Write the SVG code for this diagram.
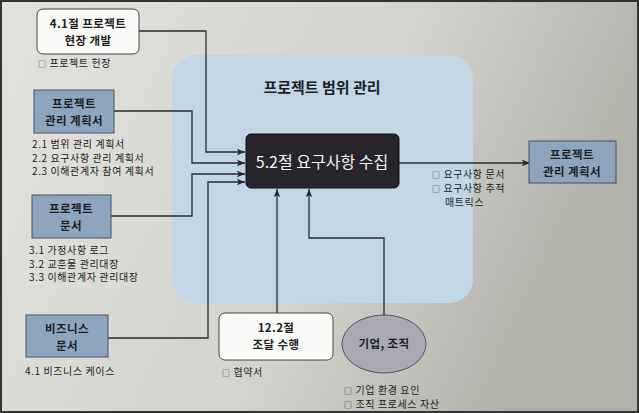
<svg xmlns="http://www.w3.org/2000/svg" width="639" height="413" viewBox="0 0 639 413">
<defs>
<linearGradient id="bg" x1="0" y1="0" x2="1" y2="0.3">
<stop offset="0" stop-color="#e2e2de"/>
<stop offset="0.6" stop-color="#d4d4cf"/>
<stop offset="1" stop-color="#b2b1aa"/>
</linearGradient>
<marker id="ah" viewBox="0 0 10 10" refX="10" refY="5" markerWidth="10" markerHeight="8" markerUnits="userSpaceOnUse" orient="auto">
<path d="M0,1 L10,5 L0,9 L2,5 Z" fill="#2a2a30"/>
</marker>
<style>
.t{font-family:"Noto Sans CJK KR","Noto Sans",sans-serif;fill:#1e1e22}
.b{font-weight:bold;font-size:11.5px;letter-spacing:0.4px;text-anchor:middle}
.s{font-size:10px;letter-spacing:0.6px}
.q{font-size:8px}
.w{fill:#fafaf8;stroke:#444;stroke-width:1}
.bl{fill:#8fa5be;stroke:#4a5060;stroke-width:1}
.c{fill:none;stroke:#2a2a30;stroke-width:1.3}
</style>
</defs>
<rect x="0" y="0" width="639" height="413" fill="url(#bg)"/>
<rect x="172" y="55" width="301" height="248" rx="24" fill="#c3d6e6"/>
<text class="t" x="322" y="93" font-size="15" font-weight="bold" text-anchor="middle">프로젝트 범위 관리</text>

<g id="connectors">
<polyline class="c" points="139,31 206,31 206,152 245,152" marker-end="url(#ah)"/>
<polyline class="c" points="114,111 192,111 192,163 245,163" marker-end="url(#ah)"/>
<polyline class="c" points="111,216 192,216 192,174 245,174" marker-end="url(#ah)"/>
<polyline class="c" points="108,338 208,338 208,182 245,182" marker-end="url(#ah)"/>
<polyline class="c" points="277,313 277,189" marker-end="url(#ah)"/>
<polyline class="c" points="384,315 384,238 309,238 309,189" marker-end="url(#ah)"/>
<polyline class="c" points="399,163 530,163" marker-end="url(#ah)"/>
</g>

<g id="n-charter">
<rect class="w" x="37" y="9" width="102" height="45" rx="6"/>
<text class="t b" x="88" y="27.5">4.1절 프로젝트</text>
<text class="t b" x="88" y="44.5">현장 개발</text>
<text class="t s" x="38" y="67"><tspan class="q">□</tspan> 프로젝트 헌장</text>
</g>

<g id="n-pmplan">
<rect class="bl" x="34" y="90" width="80" height="43"/>
<text class="t b" x="74" y="107.5">프로젝트</text>
<text class="t b" x="74" y="124.5">관리 계획서</text>
<text class="t s" x="32" y="148">2.1 범위 관리 계획서</text>
<text class="t s" x="32" y="161.5">2.2 요구사항 관리 계획서</text>
<text class="t s" x="32" y="175">2.3 이해관계자 참여 계획서</text>
</g>

<g id="n-docs">
<rect class="bl" x="32" y="195" width="79" height="43"/>
<text class="t b" x="71" y="212.5">프로젝트</text>
<text class="t b" x="71" y="229.5">문서</text>
<text class="t s" x="29" y="254">3.1 가정사항 로그</text>
<text class="t s" x="29" y="267.5">3.2 교훈물 관리대장</text>
<text class="t s" x="29" y="281">3.3 이해관계자 관리대장</text>
</g>

<g id="n-biz">
<rect class="bl" x="26" y="315" width="82" height="42"/>
<text class="t b" x="67" y="332.5">비즈니스</text>
<text class="t b" x="67" y="349.5">문서</text>
<text class="t s" x="25" y="375">4.1 비즈니스 케이스</text>
</g>

<g id="n-process">
<rect x="246" y="134" width="153" height="54" rx="5" fill="#28242c" stroke="#111" stroke-width="1"/>
<text class="t" x="322" y="168" font-size="16" style="fill:#f4f4f4" text-anchor="middle">5.2절 요구사항 수집</text>
</g>

<g id="n-procure">
<rect class="w" x="219" y="313" width="114" height="47" rx="6"/>
<text class="t b" x="276" y="332">12.2절</text>
<text class="t b" x="276" y="349">조달 수행</text>
<text class="t s" x="222" y="376"><tspan class="q">□</tspan> 협약서</text>
</g>

<g id="n-org">
<ellipse cx="384" cy="344" rx="42" ry="29" fill="#a8a9b3" stroke="#555" stroke-width="1"/>
<text class="t b" x="384" y="348">기업, 조직</text>
<text class="t s" x="344" y="394"><tspan class="q">□</tspan> 기업 환경 요인</text>
<text class="t s" x="344" y="408"><tspan class="q">□</tspan> 조직 프로세스 자산</text>
</g>

<g id="n-output">
<rect class="bl" x="529" y="141" width="87" height="42"/>
<text class="t b" x="572" y="158.5">프로젝트</text>
<text class="t b" x="572" y="175.5">관리 계획서</text>
<text class="t s" x="432" y="178"><tspan class="q">□</tspan> 요구사항 문서</text>
<text class="t s" x="432" y="192"><tspan class="q">□</tspan> 요구사항 추적</text>
<text class="t s" x="445" y="206">매트릭스</text>
</g>

<rect x="1" y="1" width="637" height="411" fill="none" stroke="#333" stroke-width="2"/>
</svg>
